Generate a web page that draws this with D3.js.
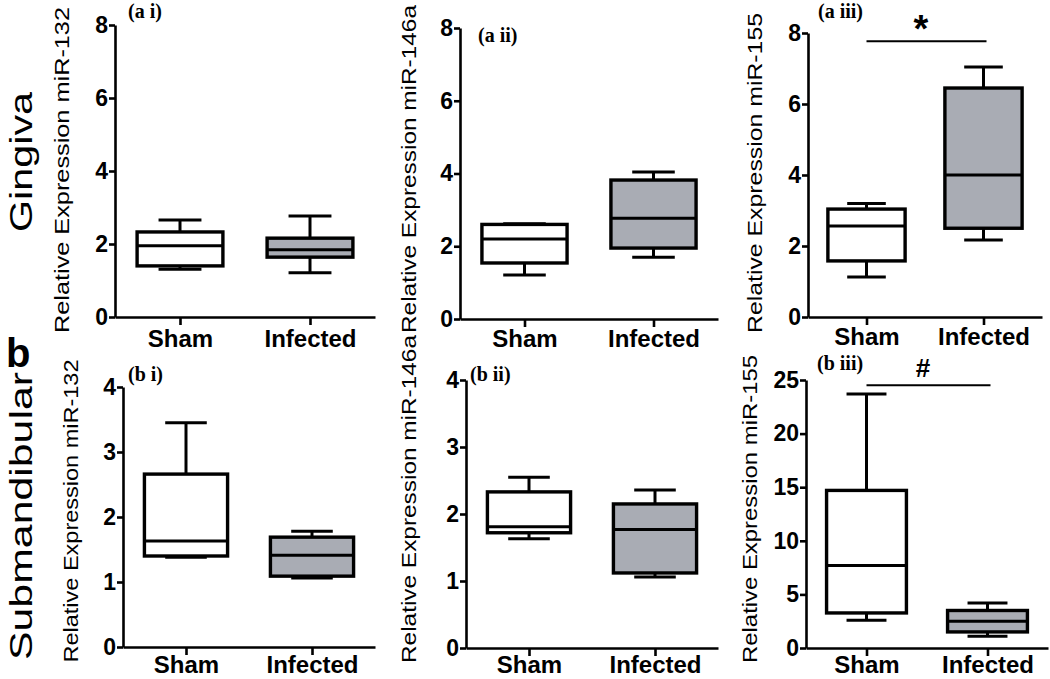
<!DOCTYPE html>
<html>
<head>
<meta charset="utf-8">
<script src="https://cdn.jsdelivr.net/npm/d3@7"></script>
<style>
  body { margin: 0; background: #fff; }
  svg { display: block; }
</style>
</head>
<body>
<script>
// ---------------- DATA ----------------
const groups = ["Sham", "Infected"];
const panelLabels = ["(a i)", "(a ii)", "(a iii)", "(b i)", "(b ii)", "(b iii)"];
const yTitles = [
  "Relative Expression miR-132",
  "Relative Expression miR-146a",
  "Relative Expression miR-155",
  "Relative Expression miR-132",
  "Relative Expression miR-146a",
  "Relative Expression miR-155"
];
const yMax = [8, 8, 8, 4, 4, 25];
const yTicks = [
  [0, 2, 4, 6, 8],
  [0, 2, 4, 6, 8],
  [0, 2, 4, 6, 8],
  [0, 1, 2, 3, 4],
  [0, 1, 2, 3, 4],
  [0, 5, 10, 15, 20, 25]
];
// [min, q1, median, q3, max]
const shamStats = [
  [1.31, 1.40, 1.95, 2.33, 2.66],
  [1.21, 1.54, 2.20, 2.60, 2.62],
  [1.13, 1.58, 2.56, 3.04, 3.20],
  [1.38, 1.40, 1.63, 2.66, 3.45],
  [1.63, 1.72, 1.81, 2.33, 2.55],
  [2.6, 3.27, 7.7, 14.7, 23.7]
];
const infectedStats = [
  [1.21, 1.64, 1.84, 2.16, 2.77],
  [1.70, 1.95, 2.77, 3.82, 4.04],
  [2.17, 2.50, 4.00, 6.45, 7.04],
  [1.06, 1.09, 1.41, 1.69, 1.78],
  [1.06, 1.12, 1.77, 2.15, 2.36],
  [1.1, 1.5, 2.5, 3.5, 4.2]
];
const sigSymbols = ["", "", "*", "", "", "#"];
const sigLevels = [null, null, 7.77, null, null, 24.5];
const rowTitles = ["Gingiva", "Submandibular"];
const sectionLetter = "b";

// ---------------- LAYOUT ----------------
const layout = [
  { axisX: 115, yTop: 25, yZero: 317, xRight: 375, lab: [128, 18], tt: [64, 170, 326], pad: 5 },
  { axisX: 460, yTop: 28, yZero: 319, xRight: 718, lab: [478, 42], tt: [411, 169, 328], pad: 3 },
  { axisX: 808, yTop: 33, yZero: 317, xRight: 1042, lab: [818, 18], tt: [757, 173, 320], pad: 3 },
  { axisX: 123, yTop: 387, yZero: 647, xRight: 375, lab: [128, 381], tt: [73, 511, 303], pad: 1 },
  { axisX: 466, yTop: 380, yZero: 648, xRight: 718, lab: [470, 381], tt: [411, 499, 328], pad: 0 },
  { axisX: 806, yTop: 380, yZero: 648, xRight: 1048, lab: [817, 370], tt: [752, 509, 308], pad: 0 }
];
const SANS = "'Liberation Sans', Arial, sans-serif";
const SERIF = "'Liberation Serif', 'Times New Roman', serif";
const fillColors = { Sham: "#ffffff", Infected: "#a9acb4" };

const svg = d3.select("body").append("svg")
  .attr("width", 1050).attr("height", 679);

// Row titles
const rowPos = [[32, 162, 140], [32, 516, 288]];
rowTitles.forEach((t, i) => {
  svg.append("text")
    .attr("transform", `translate(${rowPos[i][0]},${rowPos[i][1]}) rotate(-90)`)
    .attr("text-anchor", "middle")
    .attr("font-family", SANS)
    .attr("font-size", 31)
    .attr("textLength", rowPos[i][2])
    .attr("lengthAdjust", "spacingAndGlyphs")
    .text(t);
});
svg.append("text")
  .attr("x", 6).attr("y", 367)
  .attr("font-family", SANS).attr("font-weight", "bold")
  .attr("font-size", 40)
  .text(sectionLetter);

layout.forEach((L, i) => {
  const g = svg.append("g");
  const y = d3.scaleLinear().domain([0, yMax[i]]).range([L.yZero, L.yTop]);
  const x = d3.scalePoint().domain(groups).range([L.axisX, L.xRight]).padding(0.5);
  const step = x.step();
  const boxW = step * 0.66;
  const capW = boxW * 0.5;

  // Y axis
  const ya = g.append("g")
    .attr("transform", `translate(${L.axisX},0)`)
    .call(d3.axisLeft(y).tickValues(yTicks[i]).tickFormat(d3.format("d"))
      .tickSize(6).tickPadding(1).tickSizeOuter(0));
  // X axis
  const xa = g.append("g")
    .attr("transform", `translate(0,${L.yZero})`)
    .call(d3.axisBottom(x).tickSize(8).tickPadding(L.pad).tickSizeOuter(0));

  [ya, xa].forEach(a => {
    a.select(".domain").attr("stroke", "#000").attr("stroke-width", 2.6);
    a.selectAll(".tick line").attr("stroke", "#000").attr("stroke-width", 2.6);
    a.selectAll("text").attr("fill", "#000")
      .attr("font-family", SANS).attr("font-weight", "bold");
  });
  ya.selectAll("text").attr("font-size", 23);
  xa.selectAll("text").attr("font-size", 24);

  // Y title
  g.append("text")
    .attr("transform", `translate(${L.tt[0] + 5},${L.tt[1]}) rotate(-90)`)
    .attr("text-anchor", "middle")
    .attr("font-family", SANS).attr("font-size", 21)
    .attr("textLength", L.tt[2])
    .attr("lengthAdjust", "spacingAndGlyphs")
    .text(yTitles[i]);

  // Panel label
  g.append("text")
    .attr("x", L.lab[0]).attr("y", L.lab[1])
    .attr("font-family", SERIF).attr("font-weight", "bold")
    .attr("font-size", 20)
    .text(panelLabels[i]);

  // Boxes
  const stats = { Sham: shamStats[i], Infected: infectedStats[i] };
  groups.forEach(grp => {
    const [mn, q1, md, q3, mx] = stats[grp];
    const cx = x(grp);
    const bg = g.append("g").attr("stroke", "#000").attr("stroke-width", 3);
    bg.append("line").attr("x1", cx).attr("x2", cx).attr("y1", y(mx)).attr("y2", y(q3));
    bg.append("line").attr("x1", cx).attr("x2", cx).attr("y1", y(q1)).attr("y2", y(mn));
    bg.append("line").attr("x1", cx - capW / 2).attr("x2", cx + capW / 2).attr("y1", y(mx)).attr("y2", y(mx));
    bg.append("line").attr("x1", cx - capW / 2).attr("x2", cx + capW / 2).attr("y1", y(mn)).attr("y2", y(mn));
    bg.append("rect")
      .attr("x", cx - boxW / 2).attr("width", boxW)
      .attr("y", y(q3)).attr("height", y(q1) - y(q3))
      .attr("fill", fillColors[grp]).attr("stroke-width", 3.4);
    bg.append("line").attr("x1", cx - boxW / 2).attr("x2", cx + boxW / 2).attr("y1", y(md)).attr("y2", y(md));
  });

  // Significance bar
  if (sigSymbols[i]) {
    const ly = y(sigLevels[i]);
    g.append("line")
      .attr("x1", x("Sham")).attr("x2", x("Infected") + 3)
      .attr("y1", ly).attr("y2", ly)
      .attr("stroke", "#000").attr("stroke-width", 2);
    const mid = (x("Sham") + x("Infected")) / 2;
    const isStar = sigSymbols[i] === "*";
    g.append("text")
      .attr("x", mid - 4)
      .attr("y", isStar ? ly + 1 : ly - 8)
      .attr("text-anchor", "middle")
      .attr("font-family", SANS).attr("font-weight", "bold")
      .attr("font-size", isStar ? 38 : 26)
      .text(sigSymbols[i]);
  }
});
</script>
</body>
</html>
